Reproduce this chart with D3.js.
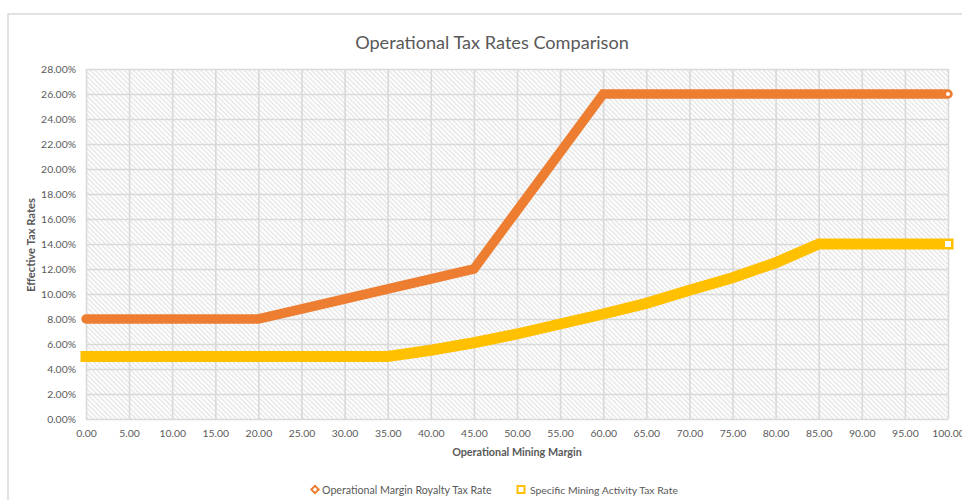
<!DOCTYPE html>
<html><head><meta charset="utf-8">
<script src="https://cdn.jsdelivr.net/npm/d3@7"></script>
<style>
body{margin:0;background:#fff;}
svg text{font-family:Lato,"Open Sans","Noto Sans",sans-serif;fill:#595959;}
</style>
</head><body>
<svg id="chart" width="962" height="500"></svg>
<script>
// ---- data ----
const margins = [0,5,10,15,20,25,30,35,40,45,50,55,60,65,70,75,80,85,90,95,100];
const royaltyRates = [8,8,8,8,8,8.8,9.6,10.4,11.2,12,16.67,21.33,26,26,26,26,26,26,26,26,26];
const miningRates  = [5,5,5,5,5,5,5,5,5.5,6.1,6.8,7.6,8.4,9.25,10.3,11.3,12.5,14,14,14,14];
const yTicks = [0,2,4,6,8,10,12,14,16,18,20,22,24,26,28];
const xTicks = [0,5,10,15,20,25,30,35,40,45,50,55,60,65,70,75,80,85,90,95,100];
const seriesNames = ["Operational Margin Royalty Tax Rate","Specific Mining Activity Tax Rate"];
const titleText = "Operational Tax Rates Comparison";
const xTitle = "Operational Mining Margin";
const yTitle = "Effective Tax Rates";

const ORANGE = "#ED7D31", YELLOW = "#FFC000", GRID = "#d9d9d9";
const svg = d3.select("#chart");
const L = 86, R = 948, T = 69, B = 419;
const x = d3.scaleLinear().domain([0,100]).range([L,R]);
const y = d3.scaleLinear().domain([0,28]).range([B,T]);

function fit(sel, w){
  const len = sel.node().getComputedTextLength();
  const fs = parseFloat(sel.attr("font-size"));
  sel.attr("font-size", fs*w/len);
}

// outer chart border
svg.append("rect").attr("x",8).attr("y",14).attr("width",1000).attr("height",600)
  .attr("fill","none").attr("stroke","#d9d9d9").attr("stroke-width",1.5);

// hatch pattern
const defs = svg.append("defs");
const pat = defs.append("pattern").attr("id","hatch").attr("patternUnits","userSpaceOnUse")
  .attr("width",3.4).attr("height",3.4).attr("patternTransform","rotate(-45)");
pat.append("rect").attr("width",3.4).attr("height",3.4).attr("fill","#fdfdfd");
pat.append("line").attr("x1",0.6).attr("y1",0).attr("x2",0.6).attr("y2",3.4)
  .attr("stroke","#e0e0e0").attr("stroke-width",1);

svg.append("rect").attr("x",L).attr("y",T).attr("width",R-L).attr("height",B-T)
  .attr("fill","url(#hatch)");

// axes with gridlines
const yAxis = svg.append("g").attr("transform",`translate(${L},0)`)
  .call(d3.axisLeft(y).tickValues(yTicks).tickSize(-(R-L)).tickPadding(10)
        .tickFormat(d=>d.toFixed(2)+"%"));
const xAxis = svg.append("g").attr("transform",`translate(0,${B})`)
  .call(d3.axisBottom(x).tickValues(xTicks).tickSize(-(B-T)).tickPadding(11)
        .tickFormat(d=>d.toFixed(2)));
[yAxis,xAxis].forEach(g=>{
  g.select(".domain").remove();
  g.selectAll(".tick line").attr("stroke",GRID).attr("stroke-width",1.6);
  g.selectAll(".tick text").attr("font-size",10.4).attr("fill","#595959")
    .style("font-family",'Lato,"Open Sans",sans-serif');
});

// series
const rows = margins.map((m,i)=>({m, r:royaltyRates[i], s:miningRates[i]}));
const lineR = d3.line().x(d=>x(d.m)).y(d=>y(d.r));
const lineS = d3.line().x(d=>x(d.m)).y(d=>y(d.s));

svg.append("path").datum(rows).attr("d",lineS).attr("fill","none")
  .attr("stroke",YELLOW).attr("stroke-width",11).attr("stroke-linecap","square")
  .attr("stroke-linejoin","miter");
svg.append("path").datum(rows).attr("d",lineR).attr("fill","none")
  .attr("stroke",ORANGE).attr("stroke-width",9.5).attr("stroke-linecap","round")
  .attr("stroke-linejoin","miter");

// last markers (hollow interiors visible)
const last = rows[rows.length-1];
svg.append("rect").attr("x",x(last.m)-3).attr("y",y(last.s)-3).attr("width",6).attr("height",6)
  .attr("fill","#fff");
svg.append("circle").attr("cx",x(last.m)).attr("cy",y(last.r)).attr("r",2).attr("fill","#fff");

// title
const t = svg.append("text").attr("x",492).attr("y",49).attr("text-anchor","middle")
  .attr("font-size",19).text(titleText);
fit(t,274);

// axis titles
const xt = svg.append("text").attr("x",517).attr("y",456).attr("text-anchor","middle")
  .attr("font-size",10).attr("font-weight","bold").text(xTitle);
fit(xt,130);
const yt = svg.append("text").attr("transform","translate(35,245) rotate(-90)")
  .attr("text-anchor","middle").attr("font-size",10).attr("font-weight","bold").text(yTitle);
fit(yt,94);

// legend
const lg = svg.append("g");
lg.append("rect").attr("x",-2.6).attr("y",-2.6).attr("width",5.2).attr("height",5.2)
  .attr("transform","translate(315,489.5) rotate(45)").attr("fill","#fff")
  .attr("stroke",ORANGE).attr("stroke-width",2);
const l1 = lg.append("text").attr("x",322).attr("y",493.5).attr("font-size",10).text(seriesNames[0]);
fit(l1,170);
lg.append("rect").attr("x",517.5).attr("y",486).attr("width",7).attr("height",7)
  .attr("fill","#fff").attr("stroke",YELLOW).attr("stroke-width",2);
const l2 = lg.append("text").attr("x",530).attr("y",493.5).attr("font-size",10).text(seriesNames[1]);
fit(l2,148);
</script>
</body></html>
